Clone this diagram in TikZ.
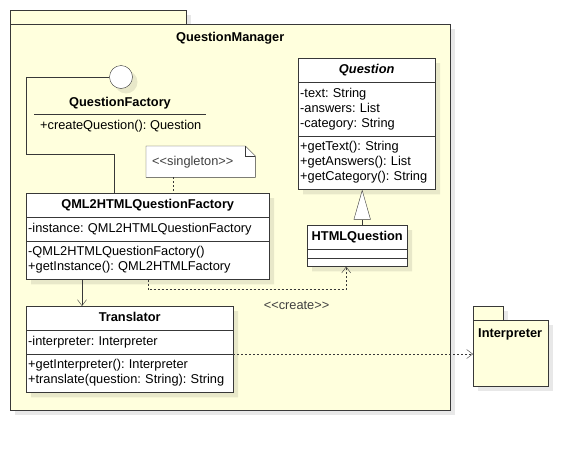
\documentclass[tikz,border=0pt]{standalone}
\usepackage{fontspec}
\setmainfont{Liberation Sans}[Ligatures=TeXOff]
\usetikzlibrary{arrows.meta,positioning,shapes.multipart,shadows}
\definecolor{pkgfill}{RGB}{255,255,221}
\definecolor{umlline}{RGB}{56,56,56}
\newcommand{\umltitle}[1]{\centering\rule[-5pt]{0pt}{16pt}\textbf{#1}\par}

\begin{document}
\begin{tikzpicture}[x=1pt,y=-1pt]
  \tikzset{every node/.style = {font=\fontsize{12.8}{15}\selectfont\frenchspacing}}
  \tikzset{boxshadow/.style = {drop shadow={shadow xshift=5pt,shadow yshift=-5pt,fill=black,opacity=0.09}}}
  \tikzset{package/.style = {rectangle,draw=umlline,fill=pkgfill,inner sep=0pt,anchor=north west,boxshadow}}
  \tikzset{umlclass/.style = {rectangle split,rectangle split parts=3,draw=umlline,fill=white,text width=#1,inner xsep=2pt,inner ysep=4pt,anchor=north west,boxshadow}}
  \tikzset{note/.style = {rectangle,anchor=north west,minimum width=109pt,minimum height=31pt,text width=97pt,align=left,inner xsep=6pt,text=black!75}}
  \tikzset{assoc/.style = {draw=umlline,-{Straight Barb[length=6pt,width=9pt]}}}
  \tikzset{dep/.style = {assoc,dash pattern=on 2pt off 2pt}}
  \tikzset{gen/.style = {draw=umlline,-{Triangle[length=30pt,width=17pt,fill=white]}}}
  \useasboundingbox (0,0) rectangle (588,450);

	\node[package,minimum width=176pt,minimum height=14pt] (QMT) at (10,10) {};
	\node[package,minimum width=440pt,minimum height=386pt] (QM) at (10,24) {};
	\node[font=\fontsize{12.8}{15}\selectfont\bfseries,anchor=north,inner sep=0pt] (QML) at ([yshift=-8pt]QM.north) {QuestionManager};

	\node[package,minimum width=30pt,minimum height=14pt] (IPT) at (473,306) {};
	\node[package,minimum width=75pt,minimum height=66pt] (IP) at (473,320) {};
	\node[font=\fontsize{12.8}{15}\selectfont\bfseries,anchor=north west,inner sep=0pt] (IPL) at ([xshift=5pt,yshift=-8pt]IP.north west) {Interpreter};

	\node[circle,draw=umlline,fill=white,minimum size=23pt,inner sep=0pt,boxshadow] (IF) at (121,77) {};
	\node[font=\fontsize{12.8}{15}\selectfont\bfseries,inner sep=0pt] (QFN) at (120,103) {QuestionFactory};
	\node[anchor=west,inner sep=0pt] (QFO) at (40,126) {+createQuestion(): Question};
	\coordinate (RB) at (26,154);

	\node[umlclass=239pt] (QH) at (26,193)
	  {\umltitle{QML2HTMLQuestionFactory}
	   \nodepart{two}\strut-instance: QML2HTMLQuestionFactory\strut
	   \nodepart{three}\strut-QML2HTMLQuestionFactory()\\+getInstance(): QML2HTMLFactory\strut};
	\node[umlclass=203pt] (TR) at (26,306)
	  {\umltitle{Translator}
	   \nodepart{two}\strut-interpreter: Interpreter\strut
	   \nodepart{three}\strut+getInterpreter(): Interpreter\\+translate(question: String): String\strut};
	\node[umlclass=133pt] (QU) at (298,58)
	  {\umltitle{\textit{Question}}
	   \nodepart{two}\strut-text: String\\-answers: List\\-category: String\strut
	   \nodepart{three}\strut+getText(): String\\+getAnswers(): List\\+getCategory(): String\strut};
	\node[umlclass=96pt,rectangle split empty part height=3pt,rectangle split empty part depth=0pt] (HQ) at (307,225)
	  {\umltitle{HTMLQuestion}
	   \nodepart{two}
	   \nodepart{three}};

	% note with folded corner
	\coordinate (SG) at (146,146);
	\node[note] (SGT) at (SG) {<<singleton>>};
	\filldraw[draw=umlline,fill=white] (SGT.south west) -- (SGT.north west) -- ([xshift=-10pt]SGT.north east)
	  -- ([yshift=-10pt]SGT.north east) -- (SGT.south east) -- cycle;
	\draw[umlline] ([xshift=-10pt]SGT.north east) -- ([xshift=-10pt,yshift=-10pt]SGT.north east) -- ([yshift=-10pt]SGT.north east);
	\node[note] at (SGT.north west) {<<singleton>>};

	\draw[umlline] (34,114) -- (206,114);
	\draw[umlline] (IF.west) -| (RB) -| ([xshift=88pt]QH.north west);
	\draw[umlline,dash pattern=on 2pt off 2pt] ([xshift=27pt]SGT.south west) -- ([xshift=27pt]SGT.south west |- QH.north);

	\path[assoc] ([xshift=56pt]QH.south west) -- ([xshift=56pt]TR.north west);
	\path[gen] ([xshift=5pt]HQ.north) -- ([xshift=5pt]HQ.north |- QU.south);
	\path[dep] (QH.south) -- ++(0,10) -| node[pos=0.375,below=8pt,text=black!75] {<<create>>} ([xshift=-11pt]HQ.south);
	\path[dep] (TR.two split east) -- (TR.two split east -| IP.west);

\end{tikzpicture}
\end{document}
